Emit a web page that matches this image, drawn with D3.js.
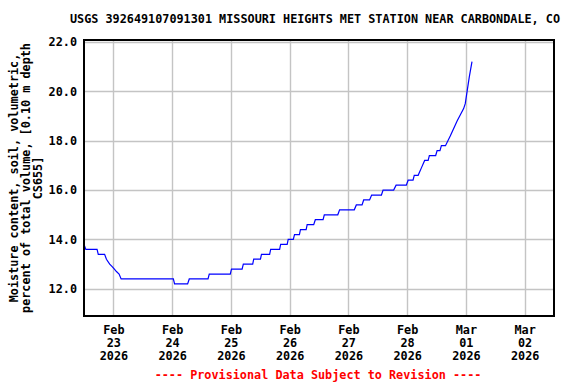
<!DOCTYPE html>
<html>
<head>
<meta charset="utf-8">
<script src="https://cdn.jsdelivr.net/npm/d3@7"></script>
<style>
  body { margin: 0; background: #fff; }
  text { font-family: "DejaVu Sans Mono", monospace; font-weight: bold; font-size: 11.8px; }
</style>
</head>
<body>
<svg id="chart" width="576" height="384"></svg>
<script>
var title = "USGS 392649107091301 MISSOURI HEIGHTS MET STATION NEAR CARBONDALE, CO"
var yTitle = ["Moisture content, soil, volumetric,", "percent of total volume, [0.10 m depth", "CS655]"]
var footer = "---- Provisional Data Subject to Revision ----"

var times = [
  "2026-02-22 12:00", "2026-02-22 12:45", "2026-02-22 17:20", "2026-02-22 17:50", "2026-02-22 20:25",
  "2026-02-22 21:10", "2026-02-22 22:30", "2026-02-22 23:30", "2026-02-23 00:25", "2026-02-23 01:15",
  "2026-02-23 02:20", "2026-02-23 03:10", "2026-02-24 00:30", "2026-02-24 01:00", "2026-02-24 06:20",
  "2026-02-24 07:00", "2026-02-24 14:40", "2026-02-24 15:10", "2026-02-24 23:45", "2026-02-25 00:15",
  "2026-02-25 04:35", "2026-02-25 05:05", "2026-02-25 08:55", "2026-02-25 09:20", "2026-02-25 12:05",
  "2026-02-25 12:30", "2026-02-25 15:50", "2026-02-25 16:15", "2026-02-25 19:55", "2026-02-25 20:20",
  "2026-02-25 23:00", "2026-02-25 23:25", "2026-02-26 01:30", "2026-02-26 02:00", "2026-02-26 04:00",
  "2026-02-26 04:25", "2026-02-26 06:45", "2026-02-26 07:10", "2026-02-26 09:50", "2026-02-26 10:30",
  "2026-02-26 13:40", "2026-02-26 14:10", "2026-02-26 19:40", "2026-02-26 20:25", "2026-02-27 02:25",
  "2026-02-27 03:15", "2026-02-27 05:35", "2026-02-27 06:15", "2026-02-27 08:40", "2026-02-27 09:30",
  "2026-02-27 13:30", "2026-02-27 14:10", "2026-02-27 18:30", "2026-02-27 19:30", "2026-02-27 23:40",
  "2026-02-28 00:25", "2026-02-28 02:25", "2026-02-28 02:55", "2026-02-28 04:30", "2026-02-28 05:50",
  "2026-02-28 07:10", "2026-02-28 08:35", "2026-02-28 09:05", "2026-02-28 11:40", "2026-02-28 12:15",
  "2026-02-28 13:25", "2026-02-28 14:00", "2026-02-28 15:40", "2026-02-28 17:40", "2026-02-28 20:25",
  "2026-02-28 23:05", "2026-02-28 23:45", "2026-03-01 00:30", "2026-03-01 01:25", "2026-03-01 02:30"
]
var values = [
  13.8, 13.6, 13.6, 13.4, 13.4,
  13.2, 13.0, 12.9, 12.8, 12.7,
  12.6, 12.4, 12.4, 12.2, 12.2,
  12.4, 12.4, 12.6, 12.6, 12.8,
  12.8, 13.0, 13.0, 13.2, 13.2,
  13.4, 13.4, 13.6, 13.6, 13.8,
  13.8, 14.0, 14.0, 14.2, 14.2,
  14.4, 14.4, 14.6, 14.6, 14.8,
  14.8, 15.0, 15.0, 15.2, 15.2,
  15.4, 15.4, 15.6, 15.6, 15.8,
  15.8, 16.0, 16.0, 16.2, 16.2,
  16.4, 16.4, 16.6, 16.6, 16.9,
  17.2, 17.2, 17.4, 17.4, 17.6,
  17.6, 17.8, 17.8, 18.2, 18.8,
  19.3, 19.5, 20.0, 20.6, 21.2
]
var dayTicks = ["2026-02-23", "2026-02-24", "2026-02-25", "2026-02-26", "2026-02-27", "2026-02-28", "2026-03-01", "2026-03-02"]
var yTicks = [12, 14, 16, 18, 20, 22]

var parseTime = d3.utcParse("%Y-%m-%d %H:%M")
var parseDay = d3.utcParse("%Y-%m-%d")
var data = times.map((t, i) => ({ t: parseTime(t), v: values[i] }))
var ticks = dayTicks.map(parseDay)

var plotLeft = 84, plotRight = 554, plotTop = 40, plotBottom = 316

var scaleX = d3.scaleUtc()
                .domain([parseTime("2026-02-22 12:00"), parseTime("2026-03-02 12:00")])
                .range([plotLeft, plotRight])

var scaleY = d3.scaleLinear()
                .domain([10.9, 22.08])
                .range([plotBottom, plotTop])

var svg = d3.select("#chart")

// grid lines
svg.append("g").selectAll("line").data(ticks).enter()
    .append("line")
    .attr("x1", d => Math.round(scaleX(d)) + 0.5).attr("x2", d => Math.round(scaleX(d)) + 0.5)
    .attr("y1", plotTop).attr("y2", plotBottom)
    .attr("stroke", "#c4c4c4").attr("stroke-width", 1.4)

svg.append("g").selectAll("line").data(yTicks).enter()
    .append("line")
    .attr("x1", plotLeft).attr("x2", plotRight)
    .attr("y1", d => Math.round(scaleY(d)) + 0.5).attr("y2", d => Math.round(scaleY(d)) + 0.5)
    .attr("stroke", "#c4c4c4").attr("stroke-width", 1.4)

// data line
var line = d3.line().x(d => scaleX(d.t)).y(d => scaleY(d.v))
svg.append("path")
    .datum(data)
    .attr("d", line)
    .attr("fill", "none")
    .attr("stroke", "#0000ff")
    .attr("stroke-width", 1.2)

// frame
svg.append("rect")
    .attr("x", plotLeft).attr("y", plotTop)
    .attr("width", plotRight - plotLeft).attr("height", plotBottom - plotTop)
    .attr("fill", "none").attr("stroke", "#000").attr("stroke-width", 2)

// axes
var axisY = d3.axisLeft(scaleY).tickValues(yTicks).tickFormat(d3.format(".1f")).tickSize(0).tickPadding(7)
var gy = svg.append("g").attr("transform", "translate(" + plotLeft + ",0)").call(axisY)
gy.select(".domain").remove()
gy.selectAll("text").attr("font-family", null).attr("font-size", null).attr("fill", "#000")

var fmtMon = d3.utcFormat("%b"), fmtDay = d3.utcFormat("%d"), fmtYear = d3.utcFormat("%Y")
var axisX = d3.axisBottom(scaleX).tickValues(ticks).tickSize(0).tickFormat("")
var gx = svg.append("g").attr("transform", "translate(0," + plotBottom + ")").call(axisX)
gx.select(".domain").remove()
gx.selectAll(".tick").each(function(d) {
    var t = d3.select(this).append("text").attr("text-anchor", "middle").attr("fill", "#000")
    t.append("tspan").attr("x", 0).attr("y", 18).text(fmtMon(d))
    t.append("tspan").attr("x", 0).attr("y", 31).text(fmtDay(d))
    t.append("tspan").attr("x", 0).attr("y", 44).text(fmtYear(d))
})

// y title
var yt = svg.append("text")
    .attr("transform", "translate(0,178) rotate(-90)")
    .attr("text-anchor", "middle")
yt.selectAll("tspan").data(yTitle).enter()
    .append("tspan")
    .attr("x", 0)
    .attr("y", (d, i) => 18 + i * 12)
    .text(d => d)

// title and footer
svg.append("text").attr("x", 315).attr("y", 23).attr("text-anchor", "middle").text(title)
svg.append("text").attr("x", 318).attr("y", 379).attr("text-anchor", "middle").attr("fill", "#ff0000").text(footer)
</script>
</body>
</html>
